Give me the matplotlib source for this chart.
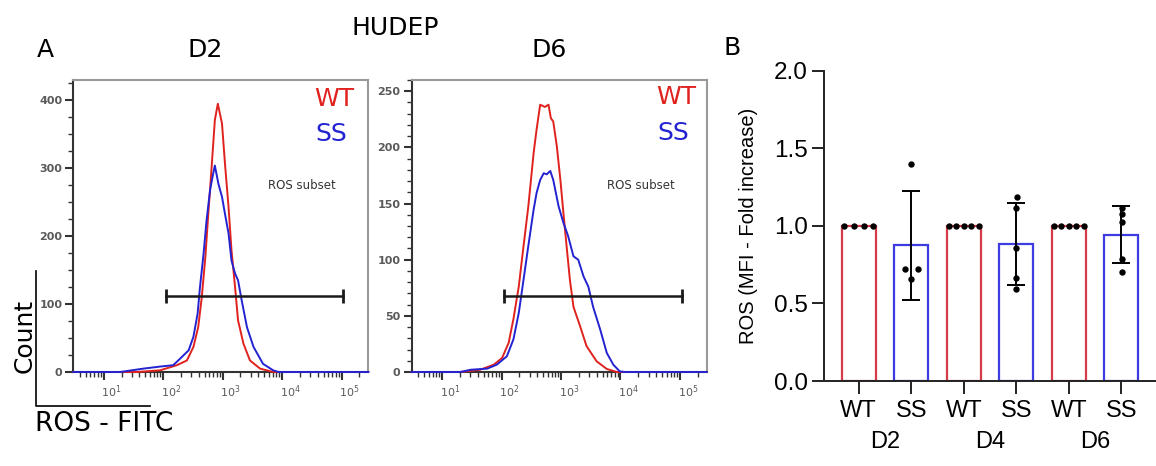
import numpy as np
import matplotlib
matplotlib.use('Agg')
import matplotlib.pyplot as plt
from matplotlib.ticker import FixedLocator, MultipleLocator, LogLocator, NullFormatter, FixedFormatter
from matplotlib.transforms import ScaledTranslation
from matplotlib.lines import Line2D

# ---------------- Panel A data: histograms (log10 ROS-FITC, count) ----------------
d2_wt_log = [0.49, 1.56, 1.95, 2.23, 2.40, 2.51, 2.59, 2.65, 2.71, 2.76, 2.82, 2.87, 2.92,
             2.99, 3.04, 3.10, 3.15, 3.21, 3.26, 3.35, 3.46, 3.63, 3.85, 5.45]
d2_wt_cnt = [0, 0, 2.5, 10, 17, 37, 66, 110, 169, 233, 307, 371, 395,
             366, 307, 243, 179, 125, 76, 42, 17, 5, 0, 0]
d2_ss_log = [0.49, 1.28, 1.67, 1.95, 2.17, 2.29, 2.43, 2.51, 2.58, 2.62, 2.68, 2.73, 2.79,
             2.83, 2.87, 2.93, 2.99, 3.04, 3.10, 3.15, 3.21, 3.26, 3.32, 3.41, 3.52, 3.68,
             3.85, 3.94, 5.45]
d2_ss_cnt = [0, 0, 5, 8, 10, 20, 32, 52, 86, 125, 174, 223, 268,
             287, 304, 277, 258, 233, 204, 164, 145, 135, 106, 66, 37, 12,
             2.5, 0, 0]
d6_wt_log = [0.49, 1.31, 1.64, 1.87, 2.01, 2.12, 2.20, 2.29, 2.37, 2.45, 2.54, 2.59, 2.65,
             2.73, 2.79, 2.83, 2.87, 2.93, 2.99, 3.04, 3.10, 3.15, 3.21, 3.32, 3.43, 3.60,
             3.77, 3.94, 5.45]
d6_wt_cnt = [0, 0, 2, 6.5, 12.5, 26, 47, 76, 112, 147, 195, 216, 238,
             236, 238, 226, 223, 201, 171, 142, 109, 82, 58, 41, 23, 9.5,
             2.7, 0, 0]
d6_ss_log = [0.49, 1.31, 1.48, 1.76, 1.92, 2.09, 2.20, 2.29, 2.37, 2.45, 2.54, 2.59, 2.65,
             2.71, 2.76, 2.82, 2.87, 2.96, 3.04, 3.12, 3.21, 3.29, 3.38, 3.46, 3.54, 3.66,
             3.77, 3.88, 3.99, 4.08, 5.45]
d6_ss_cnt = [0, 0, 2, 3, 6.5, 14, 29, 52.5, 82, 112, 144.6, 159.5, 171,
             177, 176, 179, 171, 147.5, 133, 121, 103, 100, 85, 76, 58, 37.7,
             17, 6.5, 0.5, 0, 0]
gate_range = [110, 107000]
gate_d2 = 112
gate_d6 = 68
x_decades = [1e1, 1e2, 1e3, 1e4, 1e5]
x_decade_labels = ['$10^{1}$', '$10^{2}$', '$10^{3}$', '$10^{4}$', '$10^{5}$']

# ---------------- Panel B data: ROS fold increase ----------------
groups = ['D2', 'D4', 'D6']
genotypes = ['WT', 'SS']
wt_points = [[1.0, 1.0, 1.0, 1.0],
             [1.0, 1.0, 1.0, 1.0, 1.0],
             [1.0, 1.0, 1.0, 1.0, 1.0]]
ss_points = [[1.40, 0.72, 0.72, 0.66],
             [1.185, 1.118, 0.858, 0.663, 0.592],
             [1.118, 1.075, 1.028, 0.789, 0.705]]
b_yticks = [0.0, 0.5, 1.0, 1.5, 2.0]

# ---------------- styles ----------------
RED = '#e0221e'
BLUE = '#2323d2'
BAR_RED = '#d43a48'
BAR_BLUE = '#3c3ce0'
W, H = 1156, 466

fig = plt.figure(figsize=(W / 100, H / 100), dpi=100)


def fx(px):
    return px / W


def fy(py):
    return 1 - py / H


def hist_axes(rect, ylim, ymajor, yminor, wt_log, wt_cnt, ss_log, ss_cnt, gate_y):
    ax = fig.add_axes(rect)
    ax.plot(10 ** np.array(wt_log), wt_cnt, color=RED, lw=1.4, zorder=3, clip_on=False)
    ax.plot(10 ** np.array(ss_log), ss_cnt, color=BLUE, lw=1.4, zorder=3, clip_on=False)
    ax.plot(gate_range, [gate_y, gate_y], color='#1a1a1a', lw=1.8, marker='|',
            ms=10, mew=2.0, zorder=4)
    ax.set_xscale('log')
    ax.set_xlim(10 ** 0.49, 10 ** 5.45)
    ax.set_ylim(*ylim)
    ax.xaxis.set_major_locator(FixedLocator(x_decades))
    ax.xaxis.set_major_formatter(FixedFormatter(x_decade_labels))
    ax.xaxis.set_minor_locator(LogLocator(base=10, subs=np.arange(2, 10), numticks=20))
    ax.xaxis.set_minor_formatter(NullFormatter())
    ax.yaxis.set_major_locator(MultipleLocator(ymajor))
    ax.yaxis.set_minor_locator(MultipleLocator(yminor))
    ax.tick_params(axis='both', which='major', length=6, width=1.5, color='#333333',
                   labelsize=8, labelcolor='#5a5a5a', pad=2)
    ax.tick_params(axis='both', which='minor', length=3.5, width=1.0, color='#333333')
    for lab in ax.get_yticklabels():
        lab.set_fontweight('bold')
    for lab in ax.get_xticklabels():
        lab.set_transform(lab.get_transform() + ScaledTranslation(0.08, 0, fig.dpi_scale_trans))
    for s in ['left', 'bottom']:
        ax.spines[s].set_color('#333333')
        ax.spines[s].set_linewidth(1.5)
    for s in ['top', 'right']:
        ax.spines[s].set_color('#999999')
        ax.spines[s].set_linewidth(1.5)
    return ax


ax1 = hist_axes([fx(73.3), fy(372), fx(295), (372 - 80) / H], (0, 430), 100, 25,
                d2_wt_log, d2_wt_cnt, d2_ss_log, d2_ss_cnt, gate_d2)
ax2 = hist_axes([fx(411.7), fy(372), fx(295), (372 - 80) / H], (0, 260), 50, 10,
                d6_wt_log, d6_wt_cnt, d6_ss_log, d6_ss_cnt, gate_d6)

# Panel A annotations
tf = dict(family='DejaVu Sans')
fig.text(fx(36.5), fy(57), 'A', fontsize=18, va='baseline', ha='left', **tf)
fig.text(fx(205.5), fy(57), 'D2', fontsize=18, va='baseline', ha='center', **tf)
fig.text(fx(395), fy(35), 'HUDEP', fontsize=18, va='baseline', ha='center', **tf)
fig.text(fx(549), fy(57), 'D6', fontsize=18, va='baseline', ha='center', **tf)
fig.text(fx(354), fy(106), 'WT', fontsize=18, color=RED, va='baseline', ha='right', **tf)
fig.text(fx(347), fy(141), 'SS', fontsize=18, color=BLUE, va='baseline', ha='right', **tf)
fig.text(fx(696), fy(104.5), 'WT', fontsize=18, color=RED, va='baseline', ha='right', **tf)
fig.text(fx(689), fy(140), 'SS', fontsize=18, color=BLUE, va='baseline', ha='right', **tf)
fig.text(fx(301.7), fy(189.3), 'ROS subset', fontsize=8.5, color='#333333',
         va='baseline', ha='center', **tf)
fig.text(fx(640.5), fy(189.3), 'ROS subset', fontsize=8.5, color='#333333',
         va='baseline', ha='center', **tf)
fig.text(fx(25), fy(335.7), 'Count', fontsize=18, rotation=90, va='center', ha='center', **tf)
fig.text(fx(35), fy(431), 'ROS - FITC', fontsize=19, va='baseline', ha='left', **tf)
fig.add_artist(Line2D([fx(36), fx(36), fx(150)], [fy(271), fy(406), fy(406)],
                      transform=fig.transFigure, color='black', lw=1.2))

# ---------------- Panel B ----------------
axb = fig.add_axes([fx(824), fy(381), 1 - fx(824), (381 - 70.7) / H])
bar_x = []
bar_h = []
bar_c = []
tick_lab = []
for gi, g in enumerate(groups):
    for k, (pts, col) in enumerate([(wt_points[gi], BAR_RED), (ss_points[gi], BAR_BLUE)]):
        bar_x.append(2 * gi + k)
        bar_h.append(np.mean(pts))
        bar_c.append(col)
        tick_lab.append(genotypes[k])
axb.bar(bar_x, bar_h, width=0.65, facecolor='white', edgecolor=bar_c, linewidth=1.6, zorder=2)

# error bars (mean +/- SD) for SS
for gi in range(len(groups)):
    pts = np.array(ss_points[gi])
    axb.errorbar(2 * gi + 1, pts.mean(), yerr=pts.std(ddof=1), color='black', lw=1.4,
                 capsize=6.5, capthick=1.4, zorder=3)

# individual points
wt_offsets = {4: [-0.28, -0.09, 0.10, 0.28], 5: [-0.29, -0.145, 0.0, 0.145, 0.29]}
ss_offsets = [[0.0, -0.11, 0.13, 0.0], [0.02, 0.0, 0.0, 0.0, 0.0], [0.02, 0.02, 0.02, 0.02, 0.02]]
for gi in range(len(groups)):
    wp = wt_points[gi]
    axb.scatter(2 * gi + np.array(wt_offsets[len(wp)]), wp, s=21, color='black', zorder=4, lw=0)
    sp = ss_points[gi]
    axb.scatter(2 * gi + 1 + np.array(ss_offsets[gi]), sp, s=21, color='black', zorder=4, lw=0)

axb.set_xlim(-0.66, 5.66)
axb.set_ylim(0, 2.0)
axb.set_yticks(b_yticks)
axb.set_yticklabels([f'{v:.1f}' for v in b_yticks])
axb.set_xticks(bar_x)
axb.set_xticklabels(tick_lab)
for s in ['top', 'right']:
    axb.spines[s].set_visible(False)
for s in ['left', 'bottom']:
    axb.spines[s].set_linewidth(1.4)
    axb.spines[s].set_color('#222222')
axb.tick_params(axis='y', length=9, width=1.4, color='#222222', labelsize=17.5, pad=2.5)
axb.tick_params(axis='x', length=9, width=1.4, color='#222222', labelsize=17, pad=5)
for lab in axb.get_xticklabels() + axb.get_yticklabels():
    lab.set_family('Liberation Sans')
axb.set_ylabel('ROS (MFI - Fold increase)', fontsize=14.5, family='Liberation Sans')
axb.yaxis.set_label_coords(-0.200, 0.5)
for gi, g in enumerate(groups):
    axb.text(2 * gi + 0.5, -0.197, g, transform=axb.get_xaxis_transform(), fontsize=17,
             family='Liberation Sans', ha='center', va='center')
fig.text(fx(723), fy(55), 'B', fontsize=18, va='baseline', ha='left', family='DejaVu Sans')

fig.savefig('out.png', dpi=100)
